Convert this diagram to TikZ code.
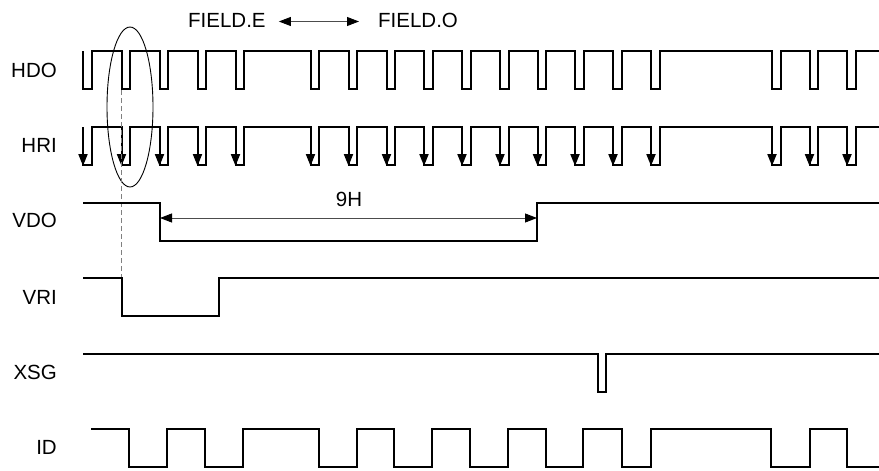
\documentclass[tikz,border=0pt]{standalone}
\usepackage{fontspec}
\setmainfont{Liberation Sans}
\usetikzlibrary{arrows.meta,calc}
\tikzset{
  sig/.style={line width=2pt, line join=miter, line cap=butt},
  thin/.style={line width=0.9pt, black!70},
  lbl/.style={inner sep=0pt, font=\fontsize{20.5}{24}\selectfont},
  tip/.style={-{Triangle[length=12pt,width=9pt]}},
  dimarrow/.style={thin, {Triangle[length=12pt,width=9pt,black]}-{Triangle[length=12pt,width=9pt,black]}},
  guide/.style={line width=0.9pt, black!50, dash pattern=on 5pt off 3pt},
}
\begin{document}
\begin{tikzpicture}[x=1pt,y=-1pt]
\useasboundingbox (0,0) rectangle (879,471);
\def\pulses{83,121.5,159.5,197.5,235.5,310.5,348.5,386.5,424,462,500,537.5,575,613,651,772,809.5,847}
% labels
\node[lbl, anchor=east] (lhdo) at (57,70) {HDO};
\node[lbl, anchor=east] (lhri) at (57,145) {HRI};
\node[lbl, anchor=east] (lvdo) at (57,220) {VDO};
\node[lbl, anchor=east] (lvri) at (57,297) {VRI};
\node[lbl, anchor=east] (lxsg) at (57,372) {XSG};
\node[lbl, anchor=east] (lid) at (57,447) {ID};
\node[lbl, anchor=west] (fe) at (188,20) {FIELD.E};
\node[lbl, anchor=west] (fo) at (378,20) {FIELD.O};
\node[lbl] (nh) at (349,199) {9H};
% field arrow
\draw[dimarrow] ($(fe.east)+(13,1.5)$) -- ($(fo.west)+(-19,1.5)$);
% HDO
\draw[sig] (83,51) \foreach \x in \pulses { -- (\x,51) -- (\x,89) -- ({\x+8.5},89) -- ({\x+8.5},51) } -- (879,51);
% HRI
\draw[sig] (83,127) \foreach \x in \pulses { -- (\x,127) -- (\x,165) -- ({\x+8.5},165) -- ({\x+8.5},127) } -- (879,127);
\foreach \x in \pulses { \draw[sig, tip] (\x,140) -- (\x,166); }
% ellipse and guide
\draw[line width=0.9pt] (130,107) ellipse [x radius=23, y radius=80];
\draw[guide] (121.5,90) -- (121.5,277);
% VDO
\draw[sig] (83,203) -| (160,241) -| (537,203) -- (879,203);
\coordinate (d1) at (160,218);
\coordinate (d2) at (537,218);
\draw[dimarrow] (d1) -- (d2);
% VRI
\draw[sig] (83,278) -| (121.5,316) -| (219,278) -- (879,278);
% XSG
\draw[sig] (83,354) -| (598,392) -| (606,354) -- (879,354);
% ID
\draw[sig] (91,429) -| (129,467) -| (167,429) -| (205,467) -| (243,429) -| (319,467) -| (357,429) -| (394,467) -| (432,429) -| (470,467) -| (508,429) -| (546,467) -| (583,429) -| (622,467) -| (651,429) -| (771,467) -| (810,429) -| (847,467) -- (879,467);
\end{tikzpicture}
\end{document}
